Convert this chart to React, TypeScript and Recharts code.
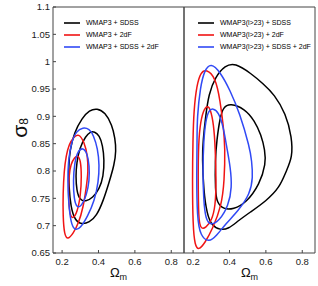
import React from "react";
import { ScatterChart, Scatter, XAxis, YAxis, Legend } from "recharts";

type Pt = [number, number];

// axes
const OMEGA_DOMAIN: [number, number] = [0.15, 0.87];
const SIGMA_DOMAIN: [number, number] = [0.65, 1.1];
const OMEGA_TICKS = [0.2, 0.4, 0.6, 0.8];
const SIGMA_TICKS = [0.65, 0.7, 0.75, 0.8, 0.85, 0.9, 0.95, 1, 1.05, 1.1];

// legend labels
const LEFT_NAMES = ["WMAP3 + SDSS", "WMAP3 + 2dF", "WMAP3 + SDSS + 2dF"];
const RIGHT_NAMES = ["WMAP3(l>23) + SDSS", "WMAP3(l>23) + 2dF", "WMAP3(l>23) + SDSS + 2dF"];

// left panel contours (Omega_m, sigma_8), 95% and 68%
const L_SDSS_95: Pt[] = [[0.392,0.915],[0.437,0.907],[0.475,0.884],[0.491,0.86],[0.497,0.837],[0.487,0.812],[0.46,0.781],[0.427,0.746],[0.39,0.718],[0.35,0.706],[0.307,0.702],[0.27,0.71],[0.248,0.734],[0.237,0.772],[0.236,0.81],[0.243,0.838],[0.266,0.87],[0.31,0.897],[0.35,0.911]];
const L_SDSS_68: Pt[] = [[0.378,0.872],[0.405,0.865],[0.423,0.847],[0.432,0.82],[0.427,0.79],[0.405,0.767],[0.368,0.751],[0.33,0.744],[0.297,0.747],[0.28,0.764],[0.275,0.791],[0.28,0.815],[0.296,0.842],[0.33,0.864],[0.356,0.872]];
const L_2DF_95: Pt[] = [[0.291,0.869],[0.322,0.853],[0.34,0.828],[0.344,0.8],[0.333,0.77],[0.316,0.733],[0.289,0.703],[0.261,0.686],[0.232,0.674],[0.212,0.683],[0.205,0.718],[0.205,0.758],[0.211,0.8],[0.222,0.828],[0.238,0.849],[0.263,0.862]];
const L_2DF_68: Pt[] = [[0.287,0.829],[0.302,0.819],[0.307,0.791],[0.302,0.755],[0.282,0.723],[0.258,0.712],[0.242,0.72],[0.234,0.755],[0.237,0.791],[0.248,0.813],[0.269,0.825]];
const L_ALL_95: Pt[] = [[0.314,0.88],[0.35,0.877],[0.372,0.866],[0.396,0.841],[0.405,0.81],[0.4,0.781],[0.378,0.745],[0.34,0.717],[0.3,0.695],[0.27,0.691],[0.248,0.704],[0.235,0.745],[0.231,0.782],[0.233,0.815],[0.25,0.852],[0.278,0.873]];
const L_ALL_68: Pt[] = [[0.314,0.843],[0.338,0.833],[0.35,0.81],[0.35,0.782],[0.334,0.755],[0.307,0.736],[0.281,0.732],[0.265,0.749],[0.261,0.782],[0.268,0.815],[0.287,0.837]];

// right panel contours (l>23)
const R_SDSS_95: Pt[] = [[0.43,0.998],[0.52,0.978],[0.584,0.96],[0.647,0.94],[0.709,0.905],[0.743,0.862],[0.746,0.825],[0.712,0.8],[0.676,0.77],[0.601,0.745],[0.511,0.724],[0.448,0.709],[0.394,0.694],[0.349,0.692],[0.303,0.7],[0.276,0.721],[0.258,0.764],[0.25,0.825],[0.255,0.856],[0.268,0.898],[0.286,0.941],[0.322,0.972],[0.376,0.993]];
const R_SDSS_68: Pt[] = [[0.403,0.924],[0.484,0.914],[0.538,0.892],[0.574,0.866],[0.595,0.838],[0.6,0.813],[0.566,0.776],[0.493,0.742],[0.421,0.73],[0.367,0.73],[0.331,0.742],[0.322,0.764],[0.321,0.819],[0.33,0.856],[0.348,0.898],[0.367,0.917]];
const R_2DF_95: Pt[] = [[0.273,0.986],[0.322,0.972],[0.349,0.929],[0.367,0.88],[0.376,0.843],[0.372,0.782],[0.356,0.736],[0.307,0.694],[0.264,0.668],[0.231,0.655],[0.21,0.663],[0.199,0.7],[0.196,0.782],[0.199,0.856],[0.204,0.911],[0.22,0.957],[0.242,0.981]];
const R_2DF_68: Pt[] = [[0.278,0.92],[0.295,0.914],[0.313,0.886],[0.322,0.843],[0.327,0.782],[0.323,0.736],[0.302,0.709],[0.269,0.696],[0.246,0.694],[0.231,0.705],[0.228,0.764],[0.228,0.837],[0.237,0.883],[0.256,0.911]];
const R_ALL_95: Pt[] = [[0.298,0.998],[0.349,0.981],[0.403,0.948],[0.457,0.905],[0.511,0.843],[0.522,0.819],[0.529,0.788],[0.513,0.758],[0.448,0.727],[0.378,0.703],[0.33,0.682],[0.287,0.669],[0.24,0.681],[0.222,0.715],[0.219,0.794],[0.222,0.856],[0.222,0.898],[0.24,0.954],[0.262,0.984]];
const R_ALL_68: Pt[] = [[0.309,0.915],[0.34,0.908],[0.367,0.88],[0.385,0.843],[0.405,0.807],[0.414,0.77],[0.394,0.736],[0.345,0.709],[0.296,0.7],[0.269,0.712],[0.258,0.745],[0.253,0.8],[0.258,0.856],[0.269,0.892],[0.286,0.911]];

const COLORS = ["#000000", "#f01414", "#3049f5"];
const FRAME = "#444";
const FONT = "'Liberation Sans', Arial, Helvetica, sans-serif";

const toPoints = (c: Pt[]) => c.map(([om, s8]) => ({ om, s8 }));

const OmegaLabel = (props: any) => {
  const vb = props.viewBox || {};
  return (
    <text x={vb.x + vb.width / 2} y={277} textAnchor="middle" fill="#111" fontFamily={FONT}>
      <tspan fontSize={13}>Ω</tspan>
      <tspan fontSize={9} dy={3}>m</tspan>
    </text>
  );
};

const SigmaLabel = () => (
  <text x={27} y={128} textAnchor="middle" fill="#111" fontFamily={FONT} transform="rotate(-90 27 128)">
    <tspan fontSize={21}>σ</tspan>
    <tspan fontSize={12} dy={1}>8</tspan>
  </text>
);

// legend keeps the order of the names list
const makeLegend = (names: string[]) => (props: any) => {
  const items = (props.payload || [])
    .filter((p: any) => p.type !== "none")
    .slice()
    .sort((a: any, b: any) => names.indexOf(a.value) - names.indexOf(b.value));
  return (
    <div style={{ fontFamily: FONT, fontSize: 7, color: "#000" }}>
      {items.map((p: any) => (
        <div key={p.value} style={{ height: 12, lineHeight: "12px", display: "flex", alignItems: "center", whiteSpace: "nowrap" }}>
          <svg width={16} height={4} style={{ marginRight: 6 }}>
            <line x1={0} y1={2} x2={16} y2={2} stroke={p.color} strokeWidth={1.6} />
          </svg>
          <span>{p.value}</span>
        </div>
      ))}
    </div>
  );
};

interface PanelProps {
  names: string[];
  sets: Pt[][][]; // [dataset][95, 68]
  width: number;
  yWidth: number;
  showY: boolean;
  marginRight: number;
  legendLeft: number;
}

function Panel({ names, sets, width, yWidth, showY, marginRight, legendLeft }: PanelProps) {
  return (
    <ScatterChart width={width} height={286} margin={{ top: 6, right: marginRight, bottom: 0, left: 0 }}>
      <XAxis
        xAxisId="b"
        type="number"
        dataKey="om"
        domain={OMEGA_DOMAIN}
        ticks={OMEGA_TICKS}
        interval={0}
        allowDataOverflow
        height={33}
        stroke={FRAME}
        tickSize={-3}
        tickMargin={8}
        tick={{ fontSize: 9.5, fill: "#1a1a1a", fontFamily: FONT }}
        label={OmegaLabel}
      />
      <XAxis
        xAxisId="t"
        orientation="top"
        type="number"
        dataKey="om"
        domain={OMEGA_DOMAIN}
        ticks={OMEGA_TICKS}
        interval={0}
        allowDataOverflow
        height={1}
        stroke={FRAME}
        tickSize={-3}
        tick={false}
      />
      <YAxis
        yAxisId="l"
        type="number"
        dataKey="s8"
        domain={SIGMA_DOMAIN}
        ticks={SIGMA_TICKS}
        interval={0}
        allowDataOverflow
        width={yWidth}
        stroke={FRAME}
        tickSize={-3}
        tickMargin={6}
        tick={showY ? { fontSize: 9.5, fill: "#1a1a1a", fontFamily: FONT } : false}
        tickFormatter={(v: number) => String(v)}
        label={showY ? SigmaLabel : undefined}
      />
      <YAxis
        yAxisId="r"
        orientation="right"
        type="number"
        dataKey="s8"
        domain={SIGMA_DOMAIN}
        ticks={SIGMA_TICKS}
        interval={0}
        allowDataOverflow
        width={1}
        stroke={FRAME}
        tickSize={-3}
        tick={false}
      />
      <Legend
        layout="vertical"
        align="center"
        verticalAlign="middle"
        wrapperStyle={{ top: 17, left: legendLeft }}
        content={makeLegend(names)}
      />
      {sets.map((pair, i) =>
        pair.map((contour, j) => (
          <Scatter
            key={`${i}-${j}`}
            xAxisId="b"
            yAxisId="l"
            name={j === 0 ? names[i] : `${names[i]} 68`}
            legendType={j === 0 ? "line" : "none"}
            data={toPoints(contour)}
            fill={COLORS[i]}
            line={{ stroke: COLORS[i], strokeWidth: 1.5 }}
            lineJointType="basisClosed"
            shape={() => <g />}
            isAnimationActive={false}
          />
        ))
      )}
    </ScatterChart>
  );
}

export default function App() {
  return (
    <div style={{ position: "absolute", left: 0, top: 0, width: 318, height: 286, background: "#fff", fontFamily: FONT }}>
      <div style={{ position: "absolute", left: 0, top: 0 }}>
        <Panel
          names={LEFT_NAMES}
          sets={[[L_SDSS_95, L_SDSS_68], [L_2DF_95, L_2DF_68], [L_ALL_95, L_ALL_68]]}
          width={185}
          yWidth={53}
          showY
          marginRight={0}
          legendLeft={64}
        />
      </div>
      <div style={{ position: "absolute", left: 183, top: 0 }}>
        <Panel
          names={RIGHT_NAMES}
          sets={[[R_SDSS_95, R_SDSS_68], [R_2DF_95, R_2DF_68], [R_ALL_95, R_ALL_68]]}
          width={135}
          yWidth={1}
          showY={false}
          marginRight={2}
          legendLeft={15}
        />
      </div>
    </div>
  );
}
